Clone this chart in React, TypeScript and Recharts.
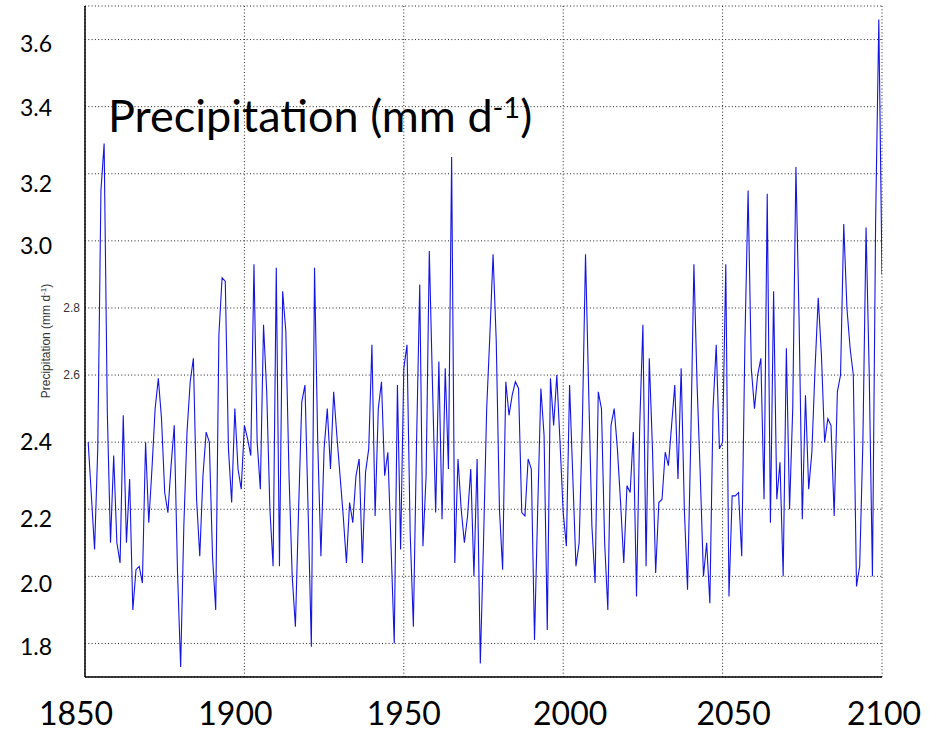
import React from 'react';
import { LineChart, Line, XAxis, YAxis, CartesianGrid } from 'recharts';

// Annual mean precipitation (mm d-1), 1851-2100
const START_YEAR = 1851;
const precip1851to1900 = [
  2.40, 2.24, 2.08, 2.38, 3.15, 3.29, 2.49, 2.10, 2.36, 2.10,
  2.04, 2.48, 2.10, 2.29, 1.90, 2.02, 2.03, 1.98, 2.40, 2.16,
  2.32, 2.50, 2.59, 2.47, 2.25, 2.19, 2.33, 2.45, 2.02, 1.73,
  2.15, 2.43, 2.58, 2.65, 2.23, 2.06, 2.30, 2.43, 2.40, 2.06,
  1.90, 2.72, 2.89, 2.88, 2.38, 2.22, 2.50, 2.32, 2.26, 2.45,
];
const precip1901to1950 = [
  2.41, 2.36, 2.93, 2.40, 2.26, 2.75, 2.55, 2.20, 2.03, 2.92,
  2.03, 2.85, 2.73, 2.30, 2.00, 1.85, 2.20, 2.52, 2.57, 2.19,
  1.79, 2.92, 2.40, 2.06, 2.38, 2.50, 2.32, 2.55, 2.42, 2.30,
  2.18, 2.04, 2.22, 2.16, 2.30, 2.35, 2.04, 2.31, 2.38, 2.69,
  2.18, 2.50, 2.58, 2.30, 2.37, 2.09, 1.80, 2.57, 2.08, 2.62,
];
const precip1951to2000 = [
  2.69, 2.13, 1.85, 2.40, 2.87, 2.09, 2.30, 2.97, 2.57, 2.19,
  2.64, 2.17, 2.62, 2.32, 3.25, 2.04, 2.35, 2.20, 2.10, 2.18,
  2.32, 2.00, 2.35, 1.74, 2.10, 2.50, 2.72, 2.96, 2.70, 2.20,
  2.02, 2.58, 2.48, 2.54, 2.58, 2.56, 2.19, 2.18, 2.35, 2.32,
  1.81, 2.20, 2.56, 2.42, 1.84, 2.59, 2.45, 2.60, 2.40, 2.19,
];
const precip2001to2050 = [
  2.09, 2.57, 2.30, 2.03, 2.10, 2.45, 2.96, 2.55, 2.15, 1.98,
  2.55, 2.50, 2.10, 1.90, 2.45, 2.50, 2.38, 2.22, 2.04, 2.27,
  2.25, 2.43, 1.94, 2.45, 2.75, 2.03, 2.65, 2.38, 2.01, 2.22,
  2.23, 2.37, 2.33, 2.45, 2.57, 2.29, 2.62, 2.20, 1.96, 2.40,
  2.93, 2.57, 2.30, 2.00, 2.10, 1.92, 2.50, 2.69, 2.38, 2.40,
];
const precip2051to2100 = [
  2.93, 1.94, 2.24, 2.24, 2.25, 2.06, 2.70, 3.15, 2.62, 2.50,
  2.60, 2.65, 2.23, 3.14, 2.16, 2.85, 2.23, 2.34, 2.00, 2.68,
  2.20, 2.50, 3.22, 2.76, 2.17, 2.54, 2.26, 2.37, 2.62, 2.83,
  2.66, 2.40, 2.47, 2.45, 2.18, 2.55, 2.60, 3.05, 2.80, 2.68,
  2.60, 1.97, 2.03, 2.40, 3.04, 2.60, 2.00, 3.06, 3.66, 2.90,
];

const X_TICKS = [1850, 1900, 1950, 2000, 2050, 2100];
const Y_TICKS = [1.8, 2.0, 2.2, 2.4, 2.6, 2.8, 3.0, 3.2, 3.4, 3.6];
const SMALL_Y_TICKS = ['2.6', '2.8'];
const X_DOMAIN = [1850, 2100];
const Y_DOMAIN = [1.7, 3.7];
const TITLE_MAIN = 'Precipitation (mm d';
const TITLE_SUP = '-1';
const TITLE_END = ')';

const allValues = [
  ...precip1851to1900,
  ...precip1901to1950,
  ...precip1951to2000,
  ...precip2001to2050,
  ...precip2051to2100,
];
const data = allValues.map((v, i) => ({ year: START_YEAR + i, precip: v }));

// styling offsets for hand-placed overlay labels
const X_LABEL_DX: Record<string, number> = { '1850': -9, '1900': -9, '1950': 0, '2000': 7, '2050': 11, '2100': 2 };
const Y_LABEL_DY: Record<string, number> = { '1.8': 4, '2.0': 8, '2.2': 10, '2.4': 0, '3.0': 5, '3.2': 10, '3.4': 1.5, '3.6': 4 };

const XTick = (props: any) => {
  const { x, y, payload } = props;
  const key = String(payload.value);
  return (
    <text x={x + (X_LABEL_DX[key] ?? 0)} y={y + 40} textAnchor="middle" fontFamily="Lato" fontSize={32} fill="#000">
      {key}
    </text>
  );
};

const YTick = (props: any) => {
  const { x, y, payload } = props;
  const key = Number(payload.value).toFixed(1);
  if (SMALL_Y_TICKS.includes(key)) {
    return (
      <text x={x} y={y + 4} textAnchor="end" fontFamily="Liberation Sans" fontSize={12} fill="#333">
        {key}
      </text>
    );
  }
  return (
    <text x={x - 28} y={y + (Y_LABEL_DY[key] ?? 0) + 8} textAnchor="end" fontFamily="Lato" fontSize={23} fill="#000">
      {key}
    </text>
  );
};

export default function App() {
  return (
    <div style={{ position: 'absolute', left: 0, top: 0, width: 929, height: 732, background: '#fff' }}>
      <LineChart width={929} height={732} data={data} margin={{ top: 6, right: 47, bottom: 0, left: 0 }}>
        <CartesianGrid stroke="#222" strokeDasharray="1 2.3" />
        <XAxis
          dataKey="year"
          type="number"
          domain={X_DOMAIN}
          ticks={X_TICKS}
          tick={<XTick />}
          tickLine={false}
          axisLine={{ stroke: '#000', strokeWidth: 1.5 }}
          height={55}
          allowDataOverflow
        />
        <XAxis
          xAxisId="top"
          orientation="top"
          dataKey="year"
          type="number"
          domain={X_DOMAIN}
          ticks={X_TICKS}
          mirror
          tick={false}
          tickSize={4}
          tickLine={{ stroke: '#000' }}
          axisLine={{ stroke: '#000', strokeWidth: 1.5 }}
          height={0}
        />
        <YAxis
          type="number"
          domain={Y_DOMAIN}
          ticks={Y_TICKS}
          tick={<YTick />}
          tickLine={false}
          tickSize={0}
          tickMargin={5}
          axisLine={{ stroke: '#000', strokeWidth: 1.5 }}
          width={85}
          allowDataOverflow
        />
        <YAxis
          yAxisId="right"
          orientation="right"
          type="number"
          domain={Y_DOMAIN}
          ticks={Y_TICKS}
          mirror
          tick={false}
          tickSize={4}
          tickLine={{ stroke: '#000' }}
          axisLine={{ stroke: '#000', strokeWidth: 1.5 }}
          width={0}
        />
        <Line
          type="linear"
          dataKey="precip"
          stroke="#1414e6"
          strokeWidth={1.1}
          dot={false}
          isAnimationActive={false}
        />
      </LineChart>
      <div
        style={{
          position: 'absolute',
          left: 108,
          top: 93,
          fontFamily: 'Lato',
          fontSize: 45,
          lineHeight: '45px',
          whiteSpace: 'nowrap',
          color: '#000',
        }}
      >
        {TITLE_MAIN}
        <span style={{ position: 'relative', top: -14, fontSize: 29 }}>{TITLE_SUP}</span>
        {TITLE_END}
      </div>
      <div
        style={{
          position: 'absolute',
          left: 46,
          top: 341,
          transform: 'translate(-50%, -50%) rotate(-90deg)',
          whiteSpace: 'nowrap',
          fontFamily: 'Liberation Sans',
          fontSize: 12,
          color: '#333',
        }}
      >
        Precipitation (mm d<span style={{ position: 'relative', top: -4, fontSize: 8 }}>-1</span>)
      </div>
    </div>
  );
}
